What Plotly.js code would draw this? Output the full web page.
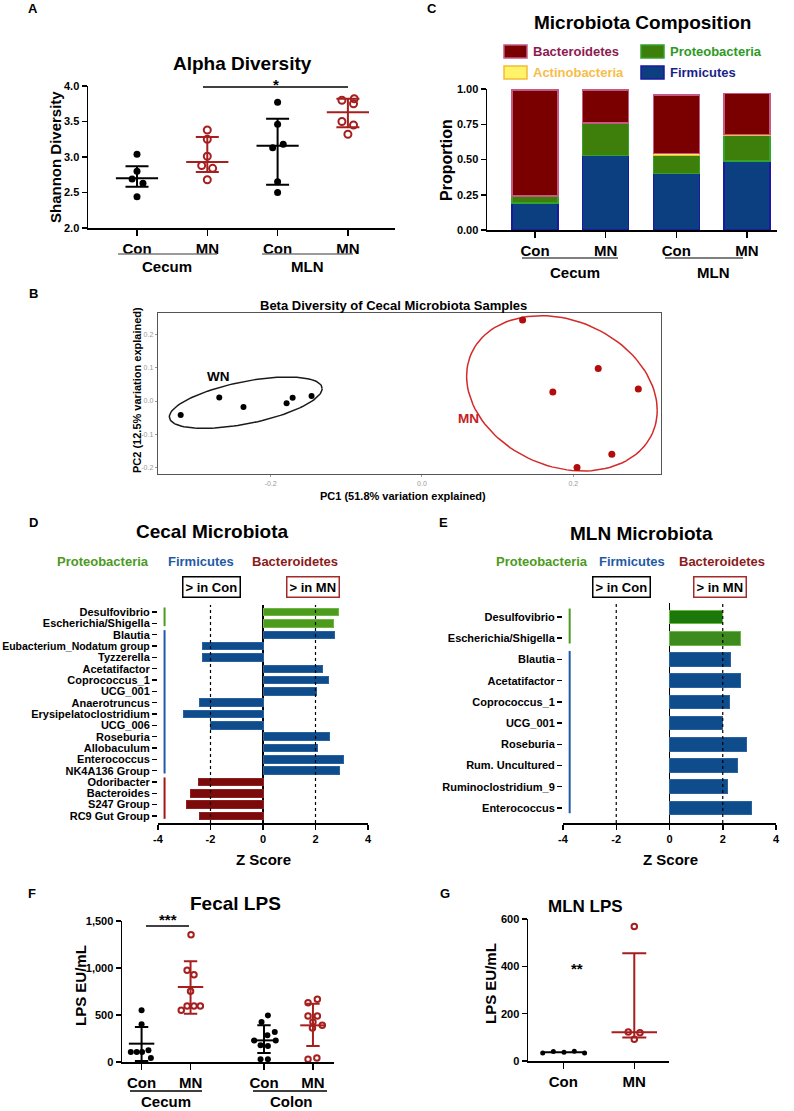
<!DOCTYPE html>
<html><head><meta charset="utf-8">
<script src="https://cdn.plot.ly/plotly-3.0.1.min.js"></script>
<style>html,body{margin:0;padding:0;background:#fff}#chart{width:794px;height:1111px}</style>
</head><body><div id="chart"></div>
<script>
// ================= DATA =================
// A: Alpha diversity (Shannon)
const alphaTicks = ['Con','MN','Con','MN'];
const alphaGroups = ['Cecum','MLN'];
const alphaConCecum = [3.04,2.80,2.69,2.63,2.44];
const alphaMnCecum  = [3.38,3.25,3.01,2.88,2.84,2.68];
const alphaConMln   = [3.77,3.46,3.18,3.13,2.65,2.50];
const alphaMnMln    = [3.82,3.80,3.75,3.50,3.45,3.32];
const alphaCenter = [2.70,2.93,3.16,3.63];
const alphaUpper  = [2.87,3.28,3.54,3.82];
const alphaLower  = [2.58,2.79,2.61,3.42];
// horizontal scatter offsets of the dots (category units)
const alphaJitConCecum = [0,0,-0.07,0.085,0];
const alphaJitMnCecum  = [0,0,0,-0.08,0.076,0];
const alphaJitConMln   = [0,0,0.08,-0.07,0,0];
const alphaJitMnMln    = [0.09,-0.085,0.08,-0.085,0.08,0];

// C: Microbiota composition (proportions)
const compTicks = ['Con','MN','Con','MN'];
const compGroups = ['Cecum','MLN'];
const firmicutes     = [0.19,0.53,0.40,0.49];
const proteobacteria = [0.05,0.23,0.13,0.18];
const actinobacteria = [0,0,0.012,0.008];
const bacteroidetes  = [0.754,0.234,0.415,0.29];

// B: PCoA
const wnPC1 = [-0.319,-0.268,-0.236,-0.179,-0.171,-0.146];
const wnPC2 = [-0.042,0.011,-0.018,-0.007,0.010,0.015];
const mnPC1 = [0.133,0.233,0.173,0.286,0.251,0.205];
const mnPC2 = [0.245,0.098,0.027,0.036,-0.161,-0.201];
// ellipse: [centerX, centerY, halfExtentX, halfExtentY, correlation]
const wnEllipse = [-0.233,-0.005,0.101,0.0776,0.55];
const mnEllipse = [0.185,0.0233,0.126,0.2347,-0.22];

// D: Cecal microbiota z scores
const cecalGenera = ['Desulfovibrio','Escherichia/Shigella','Blautia','Eubacterium_Nodatum group','Tyzzerella','Acetatifactor','Coprococcus_1','UCG_001','Anaerotruncus','Erysipelatoclostridium','UCG_006','Roseburia','Allobaculum','Enterococcus','NK4A136 Group','Odoribacter','Bacteroides','S247 Group','RC9 Gut Group'];
const cecalZ = [2.89,2.67,2.73,-2.32,-2.29,2.28,2.48,2.04,-2.43,-3.01,-2.01,2.52,2.08,3.08,2.90,-2.44,-2.75,-2.90,-2.42];
const cecalPhylum = ['P','P','F','F','F','F','F','F','F','F','F','F','F','F','F','B','B','B','B'];

// E: MLN microbiota z scores
const mlnGenera = ['Desulfovibrio','Escherichia/Shigella','Blautia','Acetatifactor','Coprococcus_1','UCG_001','Roseburia','Rum. Uncultured','Ruminoclostridium_9','Enterococcus'];
const mlnZ = [2.00,2.66,2.29,2.68,2.26,2.00,2.89,2.56,2.16,3.09];
const mlnPhylum = ['P','P','F','F','F','F','F','F','F','F'];
const zTicks = [-4,-2,0,2,4];

// F: Fecal LPS (EU/mL)
const fecalTicks = ['Con','MN','Con','MN'];
const fecalGroups = ['Cecum','Colon'];
const fecalCecumCon = [550,401,106,106,106,124,43];
const fecalCecumMn  = [1355,975,929,752,550,596,596,596];
const fecalColonCon = [496,426,319,284,230,230,177,170,28,28];
const fecalColonMn  = [667,631,489,489,426,390,362,43,28];
const fecalCenter = [195,798,230,390];
const fecalUpper  = [372,1071,390,621];
const fecalLower  = [11,514,96,170];
const fecalJitCecumCon = [0,0,-0.22,-0.10,0.01,0.14,0.19];
const fecalJitCecumMn  = [0.01,-0.07,0.07,0,-0.19,-0.07,0.07,0.2];
const fecalJitColonCon = [0.08,-0.05,0.22,0.07,-0.2,0.24,-0.07,0.08,-0.07,0.08];
const fecalJitColonMn  = [0.09,-0.1,-0.1,0.09,0,0.19,-0.01,0.08,-0.1];

// G: MLN LPS (EU/mL)
const mlnLpsTicks = ['Con','MN'];
const mlnLpsCon = [34,40,37,41,34];
const mlnLpsMn  = [568,123,119,92];
const mlnLpsCenter = [37,121];
const mlnLpsUpper  = [38,455];
const mlnLpsLower  = [36,99];
const mlnLpsJitCon = [-0.29,-0.14,0.01,0.155,0.30];
const mlnLpsJitMn  = [0,-0.085,0.08,0];

// ================= DRAWING =================
const W = 794, H = 1111;
const FONT = 'Liberation Sans, Arial, Helvetica, sans-serif';
const RED = '#A61F1F';
const xd = (a,b) => [a/W, b/W];
const yd = (top,bottom) => [1-bottom/H, 1-top/H];

function ax(extra){
  return Object.assign({showgrid:false, zeroline:false, showline:true, linecolor:'#000', linewidth:1.5,
    ticks:'outside', ticklen:5, tickwidth:1.5, tickcolor:'#000',
    tickfont:{family:FONT,size:11,color:'#000',weight:700}, fixedrange:true, automargin:false}, extra);
}
function ann(text,x,y,size,color,extra){
  return Object.assign({text:text, x:x/W, y:1-y/H, xref:'paper', yref:'paper', showarrow:false,
    xanchor:'center', yanchor:'middle', font:{family:FONT,size:size,color:color||'#000',weight:700}}, extra||{});
}
function line(x0,y0,x1,y1,color,width){
  return {type:'line', xref:'paper', yref:'paper', x0:x0/W, y0:1-y0/H, x1:x1/W, y1:1-y1/H,
    line:{color:color, width:width||1.5}};
}
function dots(xc, vals, jit, color, open, xa, ya, size){
  return {type:'scatter', mode:'markers', xaxis:xa, yaxis:ya, cliponaxis:false, hoverinfo:'skip',
    x: vals.map((v,i)=>xc+jit[i]), y: vals,
    marker: open ? {symbol:'circle-open', size:size, color:color, line:{width:2,color:color}}
                 : {symbol:'circle', size:size, color:color}};
}
function hbar(xc, y, half, color, xa, ya){
  return {type:'scatter', mode:'lines', xaxis:xa, yaxis:ya, cliponaxis:false, hoverinfo:'skip',
    x:[xc-half, xc+half], y:[y,y], line:{color:color, width:2}};
}
function ebar(xc, c, up, lo, color, cap, xa, ya){
  return {type:'scatter', mode:'markers', xaxis:xa, yaxis:ya, cliponaxis:false, hoverinfo:'skip',
    x:[xc], y:[c], marker:{size:1, color:'rgba(0,0,0,0)'},
    error_y:{type:'data', symmetric:false, array:[up-c], arrayminus:[c-lo], color:color, thickness:2, width:cap}};
}
function summary(xc, c, up, lo, color, half, cap, xa, ya){
  return [hbar(xc,c,half,color,xa,ya), ebar(xc,c,up,lo,color,cap,xa,ya)];
}
function ellipse(p){
  const [cx,cy,rx,ry,rho] = p; const s = Math.sqrt(1-rho*rho);
  const xs=[], ys=[];
  for(let i=0;i<=120;i++){ const t=2*Math.PI*i/120;
    xs.push(cx+rx*Math.cos(t)); ys.push(cy+ry*(rho*Math.cos(t)+s*Math.sin(t))); }
  return {xs, ys};
}

const traces = [];
const shapes = [];
const annotations = [];

// ---------- A ----------
const aPos = [0,1,2,3];
traces.push(dots(aPos[0], alphaConCecum, alphaJitConCecum, '#000', false, 'x','y',7));
traces.push(dots(aPos[1], alphaMnCecum, alphaJitMnCecum, RED, true, 'x','y',7));
traces.push(dots(aPos[2], alphaConMln, alphaJitConMln, '#000', false, 'x','y',7));
traces.push(dots(aPos[3], alphaMnMln, alphaJitMnMln, RED, true, 'x','y',7));
aPos.forEach((p,i)=>{
  traces.push(...summary(p, alphaCenter[i], alphaUpper[i], alphaLower[i], i%2? RED:'#000', 0.3, 11.5, 'x','y'));
});
annotations.push(ann('A',33,8,13));
annotations.push(ann('Alpha Diversity',242,64,19));
annotations.push(ann('Shannon Diversity',55,157,15,'#000',{textangle:-90}));
annotations.push(ann(alphaGroups[0],167,267,15));
annotations.push(ann(alphaGroups[1],307,267,15));
annotations.push(ann('*',276,85,15));
shapes.push(line(118,254,217,254,'#7a7a7a',1.5));
shapes.push(line(262,254,353,254,'#7a7a7a',1.5));
shapes.push(line(203,87,348,87,'#000',1.5));

// ---------- C ----------
const cPos = [0,1,2,3];
const compSeries = [
  {name:'Firmicutes', y:firmicutes, fill:'#0B3F80', edge:'#1A1AA0'},
  {name:'Proteobacteria', y:proteobacteria, fill:'#3D7F0A', edge:'#34A32C'},
  {name:'Actinobacteria', y:actinobacteria, fill:'#FFF36A', edge:'#F5BA3A'},
  {name:'Bacteroidetes', y:bacteroidetes, fill:'#7A0000', edge:'#C25A85'}
];
compSeries.forEach(s=>{
  traces.push({type:'bar', name:s.name, x:cPos, y:s.y, width:0.65, xaxis:'x2', yaxis:'y2', hoverinfo:'skip',
    marker:{color:s.fill, line:{color:s.edge, width:1.5}}});
});
annotations.push(ann('C',432,8,13));
annotations.push(ann('Microbiota Composition',642,22,19));
annotations.push(ann('Proportion',447,160,16,'#000',{textangle:-90}));
annotations.push(ann(compGroups[0],575,273,15));
annotations.push(ann(compGroups[1],713,273,15));
shapes.push(line(522,258,618,258,'#555',1.5));
shapes.push(line(665,258,743,258,'#555',1.5));
// legend
const legendItems = [
  {label:'Bacteroidetes', fill:'#7A0000', edge:'#C25A85', text:'#8C1A50', bx:504, by:45},
  {label:'Actinobacteria', fill:'#FFF36A', edge:'#F5BA3A', text:'#F6BE48', bx:504, by:66},
  {label:'Proteobacteria', fill:'#3D7F0A', edge:'#34A32C', text:'#2E9A26', bx:641, by:45},
  {label:'Firmicutes', fill:'#0B3F80', edge:'#1A1AA0', text:'#1B1F8C', bx:641, by:66}
];
legendItems.forEach(it=>{
  shapes.push({type:'rect', xref:'paper', yref:'paper', x0:it.bx/W, x1:(it.bx+23)/W, y0:1-it.by/H, y1:1-(it.by+13)/H,
    fillcolor:it.fill, line:{color:it.edge,width:1.5}});
  annotations.push(ann(it.label, it.bx+27, it.by+6.5, 13, it.text, {xanchor:'left'}));
});

// ---------- B ----------
const wnE = ellipse(wnEllipse), mnE = ellipse(mnEllipse);
traces.push({type:'scatter', mode:'lines', x:wnE.xs, y:wnE.ys, xaxis:'x3', yaxis:'y3', hoverinfo:'skip', line:{color:'#1a1a1a', width:1.5}});
traces.push({type:'scatter', mode:'lines', x:mnE.xs, y:mnE.ys, xaxis:'x3', yaxis:'y3', hoverinfo:'skip', line:{color:'#D42A2A', width:1.5}});
traces.push({type:'scatter', mode:'markers', x:wnPC1, y:wnPC2, xaxis:'x3', yaxis:'y3', hoverinfo:'skip', marker:{color:'#000', size:6}});
traces.push({type:'scatter', mode:'markers', x:mnPC1, y:mnPC2, xaxis:'x3', yaxis:'y3', hoverinfo:'skip', marker:{color:'#B30C0C', size:7}});
annotations.push(ann('B',33,293,13));
annotations.push(ann('Beta Diversity of Cecal Microbiota Samples',393,306,13));
annotations.push(ann('PC1 (51.8% variation explained)',403,496,11));
annotations.push(ann('PC2 (12.5% variation explained)',137,390,11,'#000',{textangle:-90}));
annotations.push({text:'WN', x:-0.269, y:0.073, xref:'x3', yref:'y3', showarrow:false, font:{family:FONT,size:13.5,color:'#000',weight:700}});
annotations.push({text:'MN', x:0.061, y:-0.054, xref:'x3', yref:'y3', showarrow:false, font:{family:FONT,size:13.5,color:'#C41E1E',weight:700}});

// ---------- D & E ----------
const phylumColor = {P:'#4C9A1E', F:'#0F4C8C', B:'#7B0B0B'};
const phylumEdge = {P:'#6DB83E', F:'#2A62A0', B:'#8E2020'};
const phylumMark = {P:'#4C9A1E', F:'#1F5AA6', B:'#A01818'};
function zPanel(genera, z, phy, xa, ya, barW, greens){
  const idx = genera.map((g,i)=>i);
  traces.push({type:'bar', orientation:'h', x:z, y:idx, width:barW, xaxis:xa, yaxis:ya, hoverinfo:'skip',
    marker:{color: phy.map((p,i)=> (p==='P' && greens) ? greens[i] : phylumColor[p]),
            line:{color: phy.map(p=>phylumEdge[p]), width:1}}});
  // phylum indicator lines
  ['P','F','B'].forEach(p=>{
    const rows = idx.filter(i=>phy[i]===p);
    if(!rows.length) return;
    shapes.push({type:'line', xref:xa, yref:ya, x0:-3.75, x1:-3.75, y0:rows[0]-0.4, y1:rows[rows.length-1]+0.25,
      line:{color:phylumMark[p], width:2}});
  });
  [-2,2].forEach(v=>{
    shapes.push({type:'line', xref:xa, yref:ya+' domain', x0:v, x1:v, y0:0, y1:1, line:{color:'#000', width:1.2, dash:'dot'}});
  });
}
zPanel(cecalGenera, cecalZ, cecalPhylum, 'x4', 'y4', 0.65, null);
zPanel(mlnGenera, mlnZ, mlnPhylum, 'x5', 'y5', 0.64, ['#1C780A','#3D8A1E']);

function zHeaders(cx, zeroX, title, titleY, pX, fX, bX, conC, mnC){
  annotations.push(ann(title,cx,titleY,19));
  annotations.push(ann('Proteobacteria',pX,561,13,'#4C9A1E'));
  annotations.push(ann('Firmicutes',fX,561,13,'#1F5AA6'));
  annotations.push(ann('Bacteroidetes',bX,561,13,'#8B1A1A'));
  annotations.push(ann('&gt; in Con',conC,587,13,'#000',{bordercolor:'#000',borderwidth:1.5,borderpad:2,bgcolor:'#fff'}));
  annotations.push(ann('&gt; in MN',mnC,587,13,'#000',{bordercolor:'#A52A2A',borderwidth:1.5,borderpad:2,bgcolor:'#fff'}));
  annotations.push(ann('Z Score',zeroX,859,15));
}
zHeaders(212,263,'Cecal Microbiota',531,103,201,295,211,313);
zHeaders(641,670,'MLN Microbiota',534,542,632,722,621,720);
annotations.push(ann('D',33,522,13));
annotations.push(ann('E',443,522,13));
// the longest genus label is set slightly smaller so it stays inside the page
const cecalTickText = cecalGenera.map(g => g.length > 24 ? '<span style="font-size:10.5px">'+g+'</span>' : g);

// ---------- F ----------
const fPos = [0,1,2.5,3.5];
traces.push(dots(fPos[0], fecalCecumCon, fecalJitCecumCon, '#000', false, 'x6','y6',6));
traces.push(dots(fPos[1], fecalCecumMn, fecalJitCecumMn, RED, true, 'x6','y6',5.5));
traces.push(dots(fPos[2], fecalColonCon, fecalJitColonCon, '#000', false, 'x6','y6',6));
traces.push(dots(fPos[3], fecalColonMn, fecalJitColonMn, RED, true, 'x6','y6',5.5));
fPos.forEach((p,i)=>{
  traces.push(...summary(p, fecalCenter[i], fecalUpper[i], fecalLower[i], i%2? RED:'#000', 0.26, 6.7, 'x6','y6'));
});
annotations.push(ann('F',32,893,13));
annotations.push(ann('Fecal LPS',235,903,19));
annotations.push(ann('LPS EU/mL',80,986,15,'#000',{textangle:-90}));
annotations.push(ann(fecalGroups[0],166,1101,15));
annotations.push(ann(fecalGroups[1],291,1101,15));
annotations.push(ann('***',168,919,15));
shapes.push(line(146,926,189,926,'#000',1.5));
shapes.push(line(130,1091,202,1091,'#000',1.5));
shapes.push(line(253,1091,327,1091,'#000',1.5));

// ---------- G ----------
const gPos = [0,1];
traces.push(dots(gPos[0], mlnLpsCon, mlnLpsJitCon, '#000', false, 'x7','y7',5));
traces.push(dots(gPos[1], mlnLpsMn, mlnLpsJitMn, RED, true, 'x7','y7',5.5));
traces.push(...summary(gPos[0], mlnLpsCenter[0], mlnLpsUpper[0], mlnLpsLower[0], '#000', 0.31, 0, 'x7','y7'));
traces.push(...summary(gPos[1], mlnLpsCenter[1], mlnLpsUpper[1], mlnLpsLower[1], RED, 0.32, 12, 'x7','y7'));
annotations.push(ann('G',445,893,13));
annotations.push(ann('MLN LPS',585,906,17));
annotations.push(ann('LPS EU/mL',490,984,15,'#000',{textangle:-90}));
annotations.push(ann('**',577,968,15));

// ---------- LAYOUT ----------
const layout = {
  width:W, height:H, margin:{l:0,r:0,t:0,b:0}, paper_bgcolor:'#fff', plot_bgcolor:'rgba(0,0,0,0)',
  showlegend:false, barmode:'stack', font:{family:FONT, color:'#000', weight:700},
  // A
  xaxis: ax({domain:xd(88,395), anchor:'y', range:[-0.697,3.67], tickvals:aPos, ticktext:alphaTicks, ticklen:6,
    tickfont:{family:FONT,size:15,color:'#000',weight:700}}),
  yaxis: ax({domain:yd(86,228), anchor:'x', range:[2,4], tickvals:[2,2.5,3,3.5,4], tickformat:'.1f'}),
  // C
  xaxis2: ax({domain:xd(487,777), anchor:'y2', range:[-0.679,3.424], tickvals:cPos, ticktext:compTicks, ticklen:6,
    tickfont:{family:FONT,size:15,color:'#000',weight:700}}),
  yaxis2: ax({domain:yd(89,230), anchor:'x2', range:[0,1], tickvals:[0,0.25,0.5,0.75,1], tickformat:'.2f'}),
  // B
  xaxis3: ax({domain:xd(158,661), anchor:'y3', range:[-0.349,0.316], tickvals:[-0.2,0,0.2], ticktext:['-0.2','0.0','0.2'],
    mirror:true, linecolor:'#555', linewidth:1.3, ticklen:2, tickwidth:1, tickcolor:'#999',
    tickfont:{family:FONT,size:7,color:'#999',weight:400}}),
  yaxis3: ax({domain:yd(313,474), anchor:'x3', range:[-0.2205,0.266], tickvals:[-0.2,-0.1,0,0.1,0.2], ticktext:['-0.2','-0.1','0.0','0.1','0.2'],
    mirror:true, linecolor:'#555', linewidth:1.3, ticklen:2, tickwidth:1, tickcolor:'#999',
    tickfont:{family:FONT,size:7,color:'#999',weight:400}}),
  // D
  xaxis4: ax({domain:xd(158,368), anchor:'y4', range:[-4,4], tickvals:zTicks, ticktext:zTicks.map(String),
    zeroline:true, zerolinecolor:'#000', zerolinewidth:1.5}),
  yaxis4: ax({domain:yd(605,823), anchor:'x4', range:[cecalGenera.length-0.38,-0.62], showline:false,
    tickvals:cecalGenera.map((g,i)=>i), ticktext:cecalTickText}),
  // E
  xaxis5: ax({domain:xd(563,776), anchor:'y5', range:[-4,4], tickvals:zTicks, ticktext:zTicks.map(String),
    zeroline:true, zerolinecolor:'#000', zerolinewidth:1.5}),
  yaxis5: ax({domain:yd(603,823), anchor:'x5', range:[mlnGenera.length-0.29,-0.66], showline:false,
    tickvals:mlnGenera.map((g,i)=>i), ticktext:mlnGenera}),
  // F
  xaxis6: ax({domain:xd(122,334), anchor:'y6', range:[-0.40,3.93], tickvals:fPos, ticktext:fecalTicks, ticklen:6,
    tickfont:{family:FONT,size:15,color:'#000',weight:700}}),
  yaxis6: ax({domain:yd(921,1062), anchor:'x6', range:[0,1500], tickvals:[0,500,1000,1500], ticktext:['0','500','1,000','1,500']}),
  // G
  xaxis7: ax({domain:xd(528,669), anchor:'y7', range:[-0.497,1.489], tickvals:gPos, ticktext:mlnLpsTicks, ticklen:6,
    tickfont:{family:FONT,size:15,color:'#000',weight:700}}),
  yaxis7: ax({domain:yd(919,1061), anchor:'x7', range:[0,600], tickvals:[0,200,400,600]}),
  shapes: shapes,
  annotations: annotations
};

Plotly.newPlot('chart', traces, layout, {staticPlot:true, displayModeBar:false});
</script>
</body></html>
